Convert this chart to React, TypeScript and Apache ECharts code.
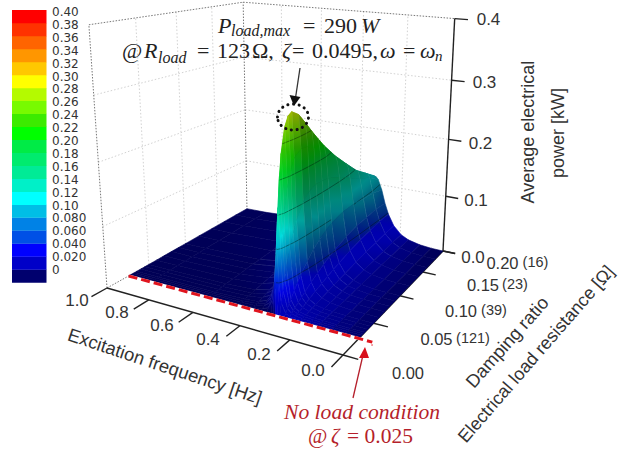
import React, { useEffect, useRef } from "react";
import * as echarts from "echarts";

const FREQ = [0, 0.054, 0.107, 0.161, 0.196, 0.232, 0.259, 0.277, 0.294, 0.312, 0.321, 0.33, 0.339, 0.348, 0.366, 0.392, 0.428, 0.49, 0.624, 0.892, 1.0];
const ZETA = [0.025, 0.0275, 0.03, 0.0325, 0.035, 0.04, 0.045, 0.05, 0.06, 0.07, 0.08, 0.09, 0.1, 0.12, 0.14, 0.16, 0.18, 0.2];
const POWER = [
  [0, 0, 0, 0, 0, 0, 0, 0, 0, 0, 0, 0, 0, 0, 0, 0, 0, 0, 0, 0, 0],
  [0, 0, 0, 0.0001, 0.0002, 0.0006, 0.0012, 0.0022, 0.005, 0.019, 0.048, 0.096, 0.05, 0.021, 0.0064, 0.0023, 0.001, 0.0004, 0.0002, 0.0001, 0],
  [0, 0, 0.0001, 0.0002, 0.0005, 0.0011, 0.0024, 0.0045, 0.0104, 0.0365, 0.0879, 0.161, 0.0906, 0.0397, 0.0126, 0.0047, 0.0021, 0.0009, 0.0003, 0.0001, 0.0001],
  [0, 0, 0.0001, 0.0004, 0.0007, 0.0017, 0.0036, 0.0066, 0.0154, 0.0527, 0.12, 0.206, 0.124, 0.0572, 0.0187, 0.007, 0.0031, 0.0013, 0.0005, 0.0002, 0.0001],
  [0, 0, 0.0002, 0.0005, 0.001, 0.0022, 0.0047, 0.0088, 0.0203, 0.0675, 0.147, 0.237, 0.151, 0.0727, 0.0245, 0.0092, 0.0041, 0.0018, 0.0006, 0.0002, 0.0002],
  [0, 0, 0.0002, 0.0007, 0.0015, 0.0033, 0.007, 0.0132, 0.0296, 0.0928, 0.185, 0.272, 0.191, 0.1, 0.0355, 0.0136, 0.0061, 0.0026, 0.0009, 0.0003, 0.0002],
  [0, 0.0001, 0.0003, 0.0009, 0.002, 0.0044, 0.0093, 0.0172, 0.0383, 0.114, 0.207, 0.286, 0.213, 0.121, 0.0459, 0.0179, 0.0081, 0.0035, 0.0012, 0.0004, 0.0003],
  [0, 0.0001, 0.0004, 0.0012, 0.0025, 0.0055, 0.0115, 0.0211, 0.0464, 0.13, 0.223, 0.29, 0.227, 0.138, 0.0553, 0.0221, 0.0101, 0.0044, 0.0016, 0.0005, 0.0004],
  [0, 0.0001, 0.0005, 0.0016, 0.0034, 0.0076, 0.0158, 0.0287, 0.0608, 0.152, 0.232, 0.282, 0.236, 0.159, 0.0715, 0.03, 0.0139, 0.0061, 0.0022, 0.0007, 0.0005],
  [0, 0.0001, 0.0007, 0.0021, 0.0043, 0.0098, 0.0199, 0.0356, 0.0723, 0.163, 0.2305, 0.266, 0.2335, 0.17, 0.0843, 0.037, 0.0175, 0.0078, 0.0028, 0.001, 0.0008],
  [0, 0.0002, 0.0008, 0.0026, 0.0053, 0.0117, 0.0238, 0.0416, 0.0816, 0.168, 0.222, 0.249, 0.224, 0.176, 0.0938, 0.0435, 0.021, 0.0093, 0.0034, 0.0012, 0.001],
  [0, 0.0002, 0.001, 0.0031, 0.0063, 0.0137, 0.0275, 0.0471, 0.0889, 0.1677, 0.2134, 0.233, 0.2146, 0.1743, 0.1012, 0.0492, 0.0244, 0.0109, 0.004, 0.0014, 0.0011],
  [0, 0.0002, 0.0011, 0.0035, 0.0073, 0.0156, 0.0309, 0.0521, 0.0942, 0.1664, 0.2023, 0.2175, 0.2033, 0.1705, 0.1052, 0.054, 0.0274, 0.0124, 0.0046, 0.0016, 0.0012],
  [0, 0.0003, 0.0014, 0.0044, 0.0089, 0.0192, 0.0367, 0.0595, 0.1, 0.1573, 0.1814, 0.191, 0.1825, 0.1604, 0.11, 0.0616, 0.0328, 0.0154, 0.0057, 0.002, 0.0016],
  [0, 0.0004, 0.0017, 0.0053, 0.0105, 0.0221, 0.0411, 0.0642, 0.1008, 0.1447, 0.1618, 0.168, 0.1619, 0.1474, 0.1087, 0.0657, 0.037, 0.0178, 0.0069, 0.0024, 0.0019],
  [0, 0.0004, 0.002, 0.0058, 0.0118, 0.0244, 0.0441, 0.0661, 0.0979, 0.132, 0.144, 0.146, 0.1443, 0.1333, 0.1047, 0.0677, 0.04, 0.0198, 0.0077, 0.0027, 0.0022],
  [0, 0.0005, 0.0022, 0.007, 0.0134, 0.027, 0.0471, 0.0682, 0.0962, 0.1233, 0.129, 0.13, 0.129, 0.122, 0.1016, 0.0699, 0.0431, 0.0222, 0.0088, 0.0032, 0.0025],
  [0, 0.0005, 0.0025, 0.0073, 0.0143, 0.0283, 0.0478, 0.0671, 0.0906, 0.1085, 0.1125, 0.114, 0.1125, 0.1085, 0.095, 0.0685, 0.0439, 0.0235, 0.0095, 0.0034, 0.0027],
];
const FREQ_TICKS = [0, 0.2, 0.4, 0.6, 0.8, 1];
const FREQ_TICK_LABELS = ["0.0", "0.2", "0.4", "0.6", "0.8", "1.0"];
const ZETA_TICKS = [0, 0.05, 0.1, 0.15, 0.2];
const ZETA_TICK_LABELS = ["0.00", "0.05", "0.10", "0.15", "0.20"];
const RESISTANCE_LABELS = ["", "(121)", "(39)", "(23)", "(16)"];
const POWER_TICKS = [0, 0.1, 0.2, 0.3, 0.4];
const POWER_TICK_LABELS = ["0.0", "0.1", "0.2", "0.3", "0.4"];
const CONTOUR_LEVELS = [0.05, 0.1, 0.15, 0.2, 0.25];
const LEGEND_LABELS = ["0", "0.020", "0.040", "0.060", "0.080", "0.10", "0.12", "0.14", "0.16", "0.18", "0.20", "0.22", "0.24", "0.26", "0.28", "0.30", "0.32", "0.34", "0.36", "0.38", "0.40"];
const LEGEND_COLORS: number[][] = [
  [0, 0, 110], [0, 0, 200], [0, 0, 255], [0, 80, 230], [0, 130, 230], [0, 190, 230], [0, 255, 255],
  [0, 240, 200], [0, 235, 150], [0, 235, 110], [0, 235, 70], [0, 255, 0], [60, 235, 0], [120, 250, 0],
  [180, 250, 0], [255, 255, 0], [255, 200, 0], [255, 150, 0], [255, 100, 0], [255, 50, 0], [255, 0, 0],
];

function project(f: number, z: number, p: number): number[] {
  const u = f, v = z / 0.2, w = p / 0.4;
  const d = 1 + 0.1644 * u + 0.3215 * v - 0.1 * w;
  return [(343 - 218.4 * u + 242.4 * v - 30 * w) / d, (355 - 19.65 * u - 23.3 * v - 309 * w) / d];
}

function cmap(p: number): number[] {
  const t = Math.max(0, Math.min(19.999, p / 0.02));
  const i = Math.floor(t), k = t - i;
  const a = LEGEND_COLORS[i], b = LEGEND_COLORS[i + 1];
  return [0, 1, 2].map((c) => a[c] + (b[c] - a[c]) * k);
}

function shadedColor(p: number, f: number, z: number): string {
  const c = cmap(p);
  let lit = 0.9 - (Math.min(0.065, Math.max(0.03, z)) - 0.03) * 10;
  if (f > 0.335) lit *= 0.45;
  const amt = Math.min(1, Math.max(0, (p - 0.01) / 0.04));
  const m = 1 + (lit - 1) * amt;
  let b = c[2] * m;
  if (p < 0.03) {
    const floorB = f > 0.33 ? 85 : 105 + (f / 0.33) * 100 - (z / 0.2) * 25;
    const k = Math.min(1, p / 0.03);
    b = floorB + (c[2] * m - floorB) * k;
  }
  return `rgb(${Math.round(c[0] * m)},${Math.round(c[1] * m)},${Math.round(b)})`;
}

function renderCell(_: any, api: any) {
  const fi = api.value(0), zi = api.value(1);
  const corners = [[fi, zi], [fi + 1, zi], [fi + 1, zi + 1], [fi, zi + 1]];
  const vals = corners.map(([a, b]) => POWER[b][a]);
  const pts = corners.map(([a, b], k) => api.coord(project(FREQ[a], ZETA[b], vals[k])));
  const midF = (FREQ[fi] + FREQ[fi + 1]) / 2, midZ = (ZETA[zi] + ZETA[zi + 1]) / 2;
  const lo = vals.indexOf(Math.min(...vals)), hi = vals.indexOf(Math.max(...vals));
  let fill: any = shadedColor((vals[0] + vals[1] + vals[2] + vals[3]) / 4, midF, midZ);
  if (vals[hi] - vals[lo] > 0.004) {
    const stops = [0, 0.25, 0.5, 0.75, 1].map((o) => ({ offset: o, color: shadedColor(vals[lo] + (vals[hi] - vals[lo]) * o, midF, midZ) }));
    fill = new echarts.graphic.LinearGradient(pts[lo][0], pts[lo][1], pts[hi][0], pts[hi][1], stops, true);
  }
  const children: any[] = [
    { type: "polygon", shape: { points: pts }, style: { fill, stroke: fill, lineWidth: 0.6 }, silent: true },
  ];
  if (Math.max(...vals) > 0.012) {
    children.push({ type: "polyline", shape: { points: [pts[0], pts[1]] }, style: { stroke: "rgba(225,255,235,0.38)", lineWidth: 0.6, fill: "none" }, silent: true });
  }
  CONTOUR_LEVELS.forEach((lv) => {
    const cross: number[][] = [];
    for (let k = 0; k < 4; k++) {
      const n = (k + 1) % 4;
      if ((vals[k] - lv) * (vals[n] - lv) < 0) {
        const t = (lv - vals[k]) / (vals[n] - vals[k]);
        cross.push([pts[k][0] + (pts[n][0] - pts[k][0]) * t, pts[k][1] + (pts[n][1] - pts[k][1]) * t]);
      }
    }
    if (cross.length >= 2) {
      children.push({ type: "polyline", shape: { points: [cross[0], cross[1]] }, style: { stroke: "rgba(0,20,10,0.6)", lineWidth: 0.7, fill: "none" }, silent: true });
    }
  });
  return { type: "group", children };
}

const FRAME_STYLES = [
  { stroke: "#222", lineWidth: 1.4 },
  { stroke: "#777", lineWidth: 1, lineDash: [1.5, 1.5] },
  { stroke: "#d2d2d2", lineWidth: 1, lineDash: [1.5, 2] },
];

function frameItems(): number[][] {
  const out: number[][] = [];
  const top = 0.4;
  POWER_TICKS.slice(1, 4).forEach((p) => {
    out.push([1, 0, p, 1, 0.2, p, 2], [1, 0.2, p, 0, 0.2, p, 2]);
  });
  ZETA_TICKS.slice(1, 4).forEach((z) => out.push([1, z, 0, 1, z, top, 2]));
  FREQ_TICKS.slice(1, 5).forEach((f) => out.push([f, 0.2, 0, f, 0.2, top, 2]));
  out.push([1, 0, 0, 1, 0, top, 1], [1, 0, top, 1, 0.2, top, 1], [1, 0.2, top, 0, 0.2, top, 1], [1, 0.2, 0, 1, 0.2, top, 1], [1, 0, 0, 1, 0.2, 0, 1]);
  out.push([1, 0, 0, 0, 0, 0, 0], [0, 0, 0, 0, 0.2, 0, 0], [0, 0.2, 0, 0, 0.2, top, 0]);
  FREQ_TICKS.forEach((f) => out.push([f, 0, 0, f, -0.017, 0, 0]));
  ZETA_TICKS.forEach((z) => out.push([0, z, 0, -0.055, z, 0, 0]));
  POWER_TICKS.forEach((p) => out.push([0, 0.2, p, -0.055, 0.2, p, 0]));
  return out;
}

function renderFrame(_: any, api: any) {
  const a = api.coord(project(api.value(0), api.value(1), api.value(2)));
  const b = api.coord(project(api.value(3), api.value(4), api.value(5)));
  return { type: "polyline", shape: { points: [a, b] }, style: { ...FRAME_STYLES[api.value(6)], fill: "none" }, silent: true };
}

function renderRedLine(_: any, api: any) {
  const a = api.coord(project(1, ZETA[0], 0));
  const b = api.coord(project(-0.05, ZETA[0], 0));
  return {
    type: "group",
    children: [
      { type: "polyline", shape: { points: [a, b] }, style: { stroke: "#fff", lineWidth: 3, fill: "none" }, silent: true },
      { type: "polyline", shape: { points: [a, b] }, style: { stroke: "#e0141e", lineWidth: 3, lineDash: [9, 4], fill: "none" }, silent: true },
    ],
  };
}

const SANS = "'Liberation Sans', Arial, sans-serif";
const SERIF = "'Liberation Serif', 'DejaVu Serif', serif";
const GREY = "#333333";
const RED = "#b51f2b";

function txt(x: number, y: number, text: string, size: number, o: any = {}) {
  return {
    type: "text", x, y, z: 100, rotation: ((o.rot || 0) * Math.PI) / 180, silent: true,
    style: {
      text, fontSize: size, fontFamily: o.family || SANS, fontStyle: o.italic ? "italic" : "normal",
      fill: o.color || GREY, align: o.align || "center", verticalAlign: "middle",
    },
  };
}

function buildGraphic() {
  const g: any[] = [];
  LEGEND_COLORS.forEach((c, i) => {
    g.push({ type: "rect", z: 50, silent: true, shape: { x: 12, y: 269.5 - i * 12.97, width: 34.5, height: 13.2 }, style: { fill: `rgb(${c.join(",")})` } });
    g.push(txt(52, 270 - i * 12.9, LEGEND_LABELS[i], 12, { align: "left", family: "'DejaVu Sans', sans-serif" }));
  });
  const zx = [473, 476, 480.5, 484.5, 488.5], zy = [257, 200, 143, 82, 19];
  POWER_TICK_LABELS.forEach((s, i) => g.push(txt(zx[i], zy[i], s, 17)));
  const fx = [313, 259, 208, 162, 117, 77], fy = [370, 354, 339, 325, 312, 300];
  FREQ_TICK_LABELS.forEach((s, i) => g.push(txt(fx[i], fy[i], s, 17)));
  const sx = [408, 436.5, 461, 483, 502.5], sy = [373, 339, 311, 285, 263];
  ZETA_TICK_LABELS.forEach((s, i) => g.push(txt(sx[i], sy[i], s, 16.5)));
  const rx = [0, 473, 494, 515, 535.5];
  RESISTANCE_LABELS.forEach((s, i) => { if (s) g.push(txt(rx[i], sy[i] - 1, s, 14.5)); });

  g.push(txt(165, 366, "Excitation frequency [Hz]", 18.4, { rot: -18.5 }));
  g.push(txt(528, 132, "Average electrical", 18, { rot: 90 }));
  g.push(txt(558, 133, "power [kW]", 18, { rot: 90 }));
  g.push(txt(507, 342, "Damping ratio", 18.4, { rot: 48.5 }));
  g.push(txt(536, 354, "Electrical load resistance [Ω]", 18, { rot: 49 }));

  const it = { family: SERIF, italic: true, align: "left", color: "#222" };
  const rm = { family: SERIF, align: "left", color: "#222" };
  g.push(txt(218, 25, "P", 22, it), txt(231, 30.5, "load,max", 16, it), txt(303, 25, "=", 22, rm), txt(324, 25, "290", 22, rm), txt(361, 25, "W", 22, it));
  g.push(txt(122, 50, "@", 22, rm), txt(144, 50, "R", 22, it), txt(158, 57, "load", 16, it));
  g.push(txt(197, 50, "=", 22, rm), txt(217, 50, "123", 22, rm), txt(252, 50, "Ω,", 22, rm), txt(282, 50, "ζ", 22, it), txt(292, 50, "=", 22, rm), txt(312, 50, "0.0495,", 22, rm));
  g.push(txt(380, 50, "ω", 22, it), txt(403, 50, "=", 22, rm), txt(420, 50, "ω", 22, it), txt(435, 56, "n", 15, it));

  g.push(txt(362, 412, "No load condition", 21.6, { family: SERIF, italic: true, color: RED }));
  g.push(txt(308, 436, "@", 21, { family: SERIF, color: RED, align: "left" }), txt(331, 436, "ζ", 21, { family: SERIF, italic: true, color: RED, align: "left" }), txt(347, 436, "= 0.025", 21.5, { family: SERIF, color: RED, align: "left" }));

  g.push({ type: "line", z: 100, silent: true, shape: { x1: 300, y1: 68, x2: 295.5, y2: 98 }, style: { stroke: "#333", lineWidth: 1.3 } });
  g.push({ type: "polygon", z: 100, silent: true, shape: { points: [[289.5, 95], [300.5, 97], [294, 106]] }, style: { fill: "#111" } });
  g.push({ type: "ellipse", z: 100, silent: true, shape: { cx: 293, cy: 117, rx: 15.5, ry: 13 }, style: { fill: "none", stroke: "#111", lineWidth: 3, lineDash: [0.1, 5.6], lineCap: "round" } });

  g.push({ type: "line", z: 100, silent: true, shape: { x1: 353, y1: 398, x2: 363, y2: 355 }, style: { stroke: RED, lineWidth: 1.3 } });
  g.push({ type: "polygon", z: 100, silent: true, shape: { points: [[365, 347], [359, 358], [369, 358]] }, style: { fill: "#d8101c" } });
  g.push({ type: "circle", z: 100, silent: true, shape: { cx: 372, cy: 345, r: 0.7 }, style: { fill: "#e0141e" } });
  return g;
}

const surfaceCells: number[][] = [];
for (let z = ZETA.length - 2; z >= 0; z--) {
  for (let f = FREQ.length - 2; f >= 0; f--) surfaceCells.push([f, z]);
}

export default function App() {
  const ref = useRef<HTMLDivElement>(null);
  useEffect(() => {
    const chart = echarts.init(ref.current as HTMLDivElement, null, { renderer: "svg" });
    chart.setOption({
      animation: false,
      backgroundColor: "#fff",
      grid: { left: 0, right: 0, top: 0, bottom: 0 },
      xAxis: { type: "value", min: 0, max: 621, show: false },
      yAxis: { type: "value", min: 0, max: 450, inverse: true, show: false },
      graphic: buildGraphic(),
      series: [
        { type: "custom", coordinateSystem: "cartesian2d", data: frameItems(), renderItem: renderFrame, z: 1, clip: false, silent: true, progressive: 0 },
        { type: "custom", coordinateSystem: "cartesian2d", data: surfaceCells, renderItem: renderCell, z: 2, clip: false, silent: true, progressive: 0 },
        { type: "custom", coordinateSystem: "cartesian2d", data: [[0]], renderItem: renderRedLine, z: 3, clip: false, silent: true, progressive: 0 },
      ],
    });
    return () => chart.dispose();
  }, []);
  return <div ref={ref} style={{ position: "absolute", left: 0, top: 0, width: 621, height: 450 }} />;
}
